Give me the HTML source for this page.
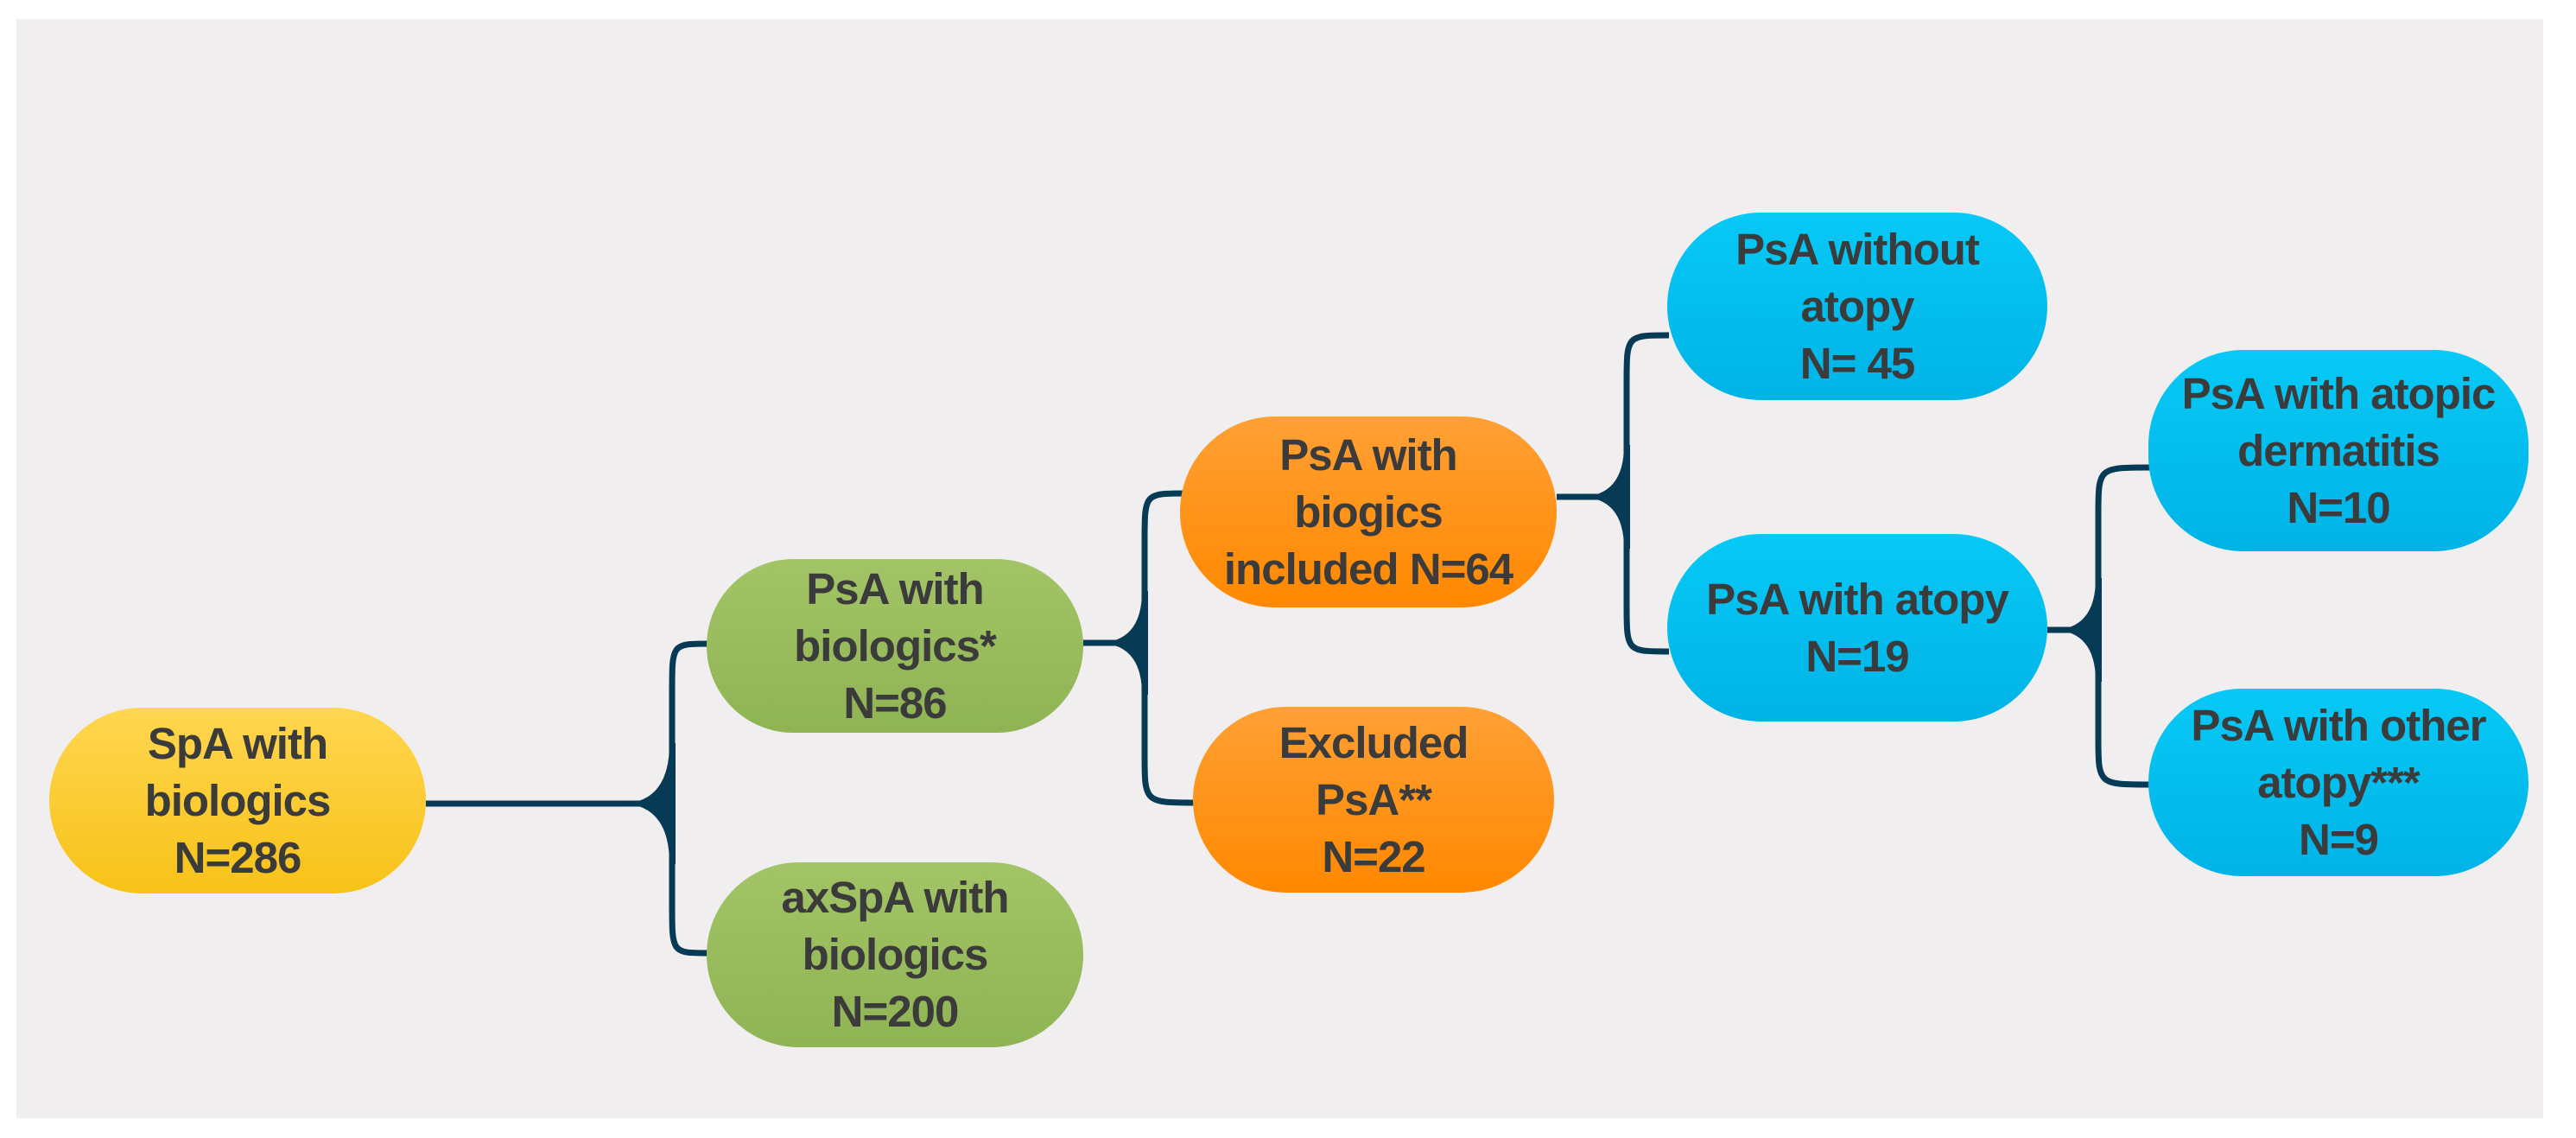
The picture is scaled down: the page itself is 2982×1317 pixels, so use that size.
<!DOCTYPE html>
<html><head><meta charset="utf-8"><style>
html,body{margin:0;padding:0;background:#fff;}
body{width:2982px;height:1317px;position:relative;overflow:hidden;font-family:"Liberation Sans",sans-serif;}
.bg{position:absolute;left:19px;top:22px;width:2925px;height:1272px;background:#f1eef0;}
.n{position:absolute;border-radius:110px;display:flex;align-items:center;justify-content:center;text-align:center;font-weight:bold;font-size:51px;line-height:66px;letter-spacing:-1px;color:#3b3b3b;}
.y{background:linear-gradient(#ffd650,#f7c218);}
.g{background:linear-gradient(#a2c466,#8fb454);}
.o{background:linear-gradient(#ffa035,#ff8800);}
.b{background:linear-gradient(#07c9f6,#00b3e6);}
svg{position:absolute;left:0;top:0;}
</style></head><body>
<div class="bg"></div>
<svg width="2982" height="1317" fill="none" stroke="#073a55" stroke-width="7">
<g>
<path d="M493 930 H778"/>
<path d="M820 745 C778 745 778 745 778 800 V1048 C778 1103 778 1103 820 1103"/>
<path d="M718 930 Q775 930 775 860 L782 860 L782 1000 L775 1000 Q775 930 718 930Z" fill="#073a55" stroke="none"/>
</g>
<g>
<path d="M1254 744 H1325"/>
<path d="M1372 571 C1325 571 1325 571 1325 626 V874 C1325 929 1325 929 1385 929"/>
<path d="M1270 744 Q1322 744 1322 684 L1329 684 L1329 804 L1322 804 Q1322 744 1270 744Z" fill="#073a55" stroke="none"/>
</g>
<g>
<path d="M1802 575 H1883"/>
<path d="M1932 388 C1883 388 1883 388 1883 443 V699 C1883 754 1883 754 1932 754"/>
<path d="M1828 575 Q1880 575 1880 515 L1887 515 L1887 635 L1880 635 Q1880 575 1828 575Z" fill="#073a55" stroke="none"/>
</g>
<g>
<path d="M2370 729 H2429"/>
<path d="M2489 541 C2429 541 2429 541 2429 596 V853 C2429 908 2429 908 2489 908"/>
<path d="M2375 729 Q2426 729 2426 669 L2433 669 L2433 789 L2426 789 Q2426 729 2375 729Z" fill="#073a55" stroke="none"/>
</g>
</svg>
<div class="n y" style="left:57px;top:819px;width:436px;height:215px;">SpA with<br>biologics<br>N=286</div>
<div class="n g" style="left:818px;top:647px;width:436px;height:201px;">PsA with<br>biologics*<br>N=86</div>
<div class="n g" style="left:818px;top:998px;width:436px;height:214px;">axSpA with<br>biologics<br>N=200</div>
<div class="n o" style="left:1366px;top:482px;width:436px;height:221px;">PsA with<br>biogics<br>included N=64</div>
<div class="n o" style="left:1381px;top:818px;width:418px;height:215px;">Excluded<br>PsA**<br>N=22</div>
<div class="n b" style="left:1930px;top:246px;width:440px;height:217px;">PsA without<br>atopy<br>N= 45</div>
<div class="n b" style="left:1930px;top:618px;width:440px;height:217px;">PsA with atopy<br>N=19</div>
<div class="n b" style="left:2487px;top:405px;width:440px;height:233px;">PsA with atopic<br>dermatitis<br>N=10</div>
<div class="n b" style="left:2487px;top:797px;width:440px;height:217px;">PsA with other<br>atopy***<br>N=9</div>
</body></html>
